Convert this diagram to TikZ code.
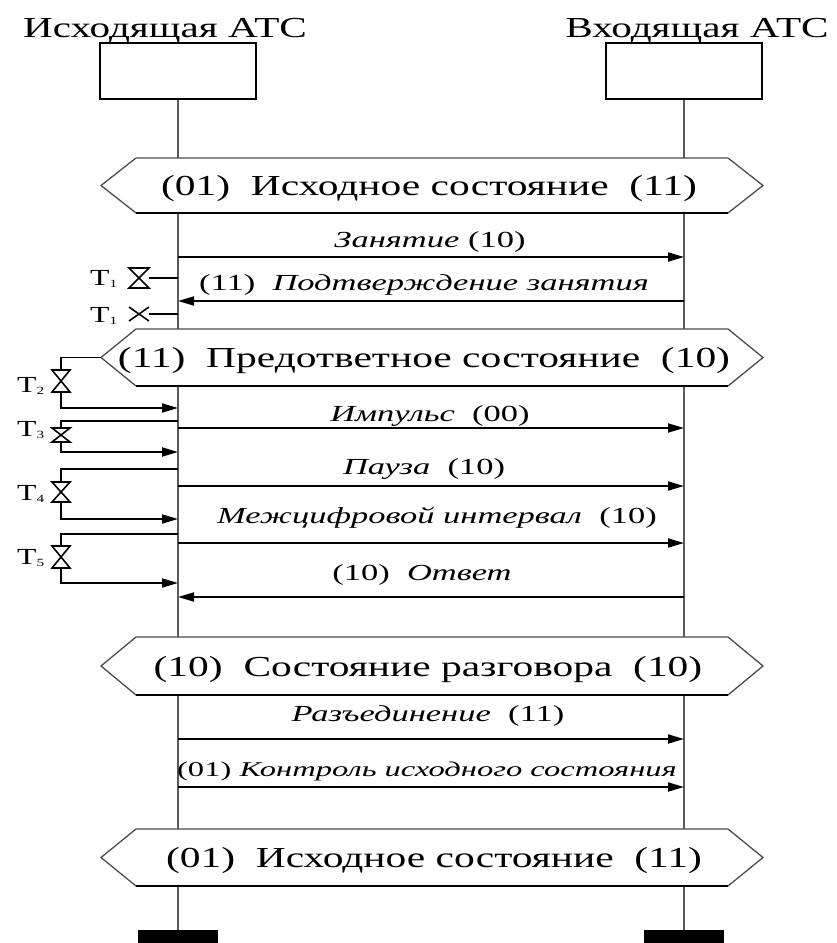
\documentclass[tikz,border=0pt]{standalone}
\usepackage{fontspec}
\setmainfont{Liberation Serif}
\usepackage{graphicx}
\usetikzlibrary{arrows.meta}
\newcommand{\wx}[2][1.38]{\scalebox{#1}[1]{#2}}
\newcommand{\hexa}[3]{%
  \draw[fill=white, draw=black!70, line width=1.3pt] (101,#3) -- (136,#1) -- (728,#1) -- (763,#3) -- (728,#2) -- (136,#2) -- cycle;
  \draw[line width=2.4pt] (136,#2) -- (728,#2);}
\newcommand{\hglass}[4]{%
  \draw[fill=white, line width=1.6pt] (#1-#3,#2-#4) -- (#1+#3,#2-#4) -- (#1-#3,#2+#4) -- (#1+#3,#2+#4) -- cycle;
  \draw[line width=2.4pt] (#1-#3,#2-#4) -- (#1+#3,#2-#4) (#1-#3,#2+#4) -- (#1+#3,#2+#4);}
\begin{document}
\begin{tikzpicture}[x=1pt,y=-1pt,
  life/.style={draw=black!65, line width=2.4pt},
  msg/.style={line width=1.8pt, -{Triangle[length=16pt,width=9pt]}},
  loopl/.style={line width=1.8pt, -{Triangle[length=16pt,width=9pt]}},
  ttl/.style={inner sep=0, anchor=base, font=\fontsize{29}{31}\selectfont},
  lbl/.style={inner sep=0, anchor=base, font=\fontsize{23}{25}\selectfont},
  hexlbl/.style={inner sep=0, anchor=base, font=\fontsize{29}{31}\selectfont},
  tlbl/.style={inner sep=0, anchor=base west, font=\fontsize{23}{25}\selectfont},
  tbox/.style={draw, line width=1.8pt, fill=white, minimum width=156pt, minimum height=56pt, inner sep=0},
  endbox/.style={fill=black, minimum width=80pt, minimum height=16pt, inner sep=0}]
\useasboundingbox (0,0) rectangle (836,943);
% titles and boxes
\node[ttl] (tL) at (165,37) {\wx[1.42]{Исходящая АТС}};
\node[ttl] (tR) at (697,37) {\wx[1.42]{Входящая АТС}};
\node[tbox] (boxL) at (178,71) {};
\node[tbox] (boxR) at (684,71) {};
\node[endbox, anchor=north] (eL) at (178,930) {};
\node[endbox, anchor=north] (eR) at (684,930) {};
\draw[life] (boxL.south) -- (eL.north);
\draw[life] (boxR.south) -- (eR.north);
% hexagons
\hexa{158}{213}{185.5}
\hexa{329}{386}{357.5}
\hexa{637}{695}{666}
\hexa{829}{886}{857.5}
\coordinate (h2tip) at (101,357.5);
\node[hexlbl] (s1) at (429,195) {\wx[1.43]{(01)\ \ Исходное состояние\ \ (11)}};
\node[hexlbl] (s2) at (424,367) {\wx[1.43]{(11)\ \ Предответное состояние\ \ (10)}};
\node[hexlbl] (s3) at (428,676) {\wx[1.43]{(10)\ \ Состояние разговора\ \ (10)}};
\node[hexlbl] (s4) at (434,867) {\wx[1.43]{(01)\ \ Исходное состояние\ \ (11)}};
% message end points
\foreach \n/\y in {a/257,b/301,c/428,d/486,e/543,f/597,g/739,h/787}{
  \coordinate (L\n) at (178,\y); \coordinate (R\n) at (684,\y);}
\draw[msg] (La) -- (Ra);
\draw[msg] (Rb) -- (Lb);
\draw[msg] (Lc) -- (Rc);
\draw[msg] (Ld) -- (Rd);
\draw[msg] (Le) -- (Re);
\draw[msg] (Rf) -- (Lf);
\draw[msg] (Lg) -- (Rg);
\draw[msg] (Lh) -- (Rh);
\node[lbl] (ma) at (430,247) {\wx[1.5]{\textit{Занятие} (10)}};
\node[lbl] (mb) at (424,290) {\wx[1.5]{(11)\ \ \textit{Подтверждение занятия}}};
\node[lbl] (mc) at (430,421) {\wx[1.5]{\textit{Импульс}\ \ (00)}};
\node[lbl] (md) at (424,474) {\wx[1.5]{\textit{Пауза}\ \ (10)}};
\node[lbl] (me) at (437,523) {\wx[1.5]{\textit{Межцифровой интервал}\ \ (10)}};
\node[lbl] (mf) at (422,580) {\wx[1.5]{(10)\ \ \textit{Ответ}}};
\node[lbl] (mg) at (428,721) {\wx[1.5]{\textit{Разъединение}\ \ (11)}};
\node[lbl, font=\fontsize{21}{23}\selectfont] (mh) at (427,776) {\wx[1.55]{(01) \textit{Контроль исходного состояния}}};
% T1 timers
\coordinate (g1) at (149,278);
\coordinate (L1) at (178,278);
\coordinate (x1) at (149,314);
\coordinate (L2) at (178,314);
\draw[line width=1.6pt] (L1) -- (g1);
\draw[line width=1.6pt] (L2) -- (x1);
\hglass{139}{278}{10}{10}
\draw[line width=1.6pt] (129,307) -- (149,321) (129,321) -- (149,307);
\node[tlbl] (t1a) at (90,285) {\wx{T\raisebox{-2pt}{\fontsize{11}{12}\selectfont 1}}};
\node[tlbl] (t1b) at (90,322) {\wx{T\raisebox{-2pt}{\fontsize{11}{12}\selectfont 1}}};
% T2..T5 loops
\coordinate (k2) at (61,357.5); \coordinate (k2b) at (61,408); \coordinate (L3) at (178,408);
\draw[loopl] (h2tip) -- (k2) -- (k2b) -- (L3);
\coordinate (L4) at (178,421); \coordinate (k3) at (61,421); \coordinate (k3b) at (61,452); \coordinate (L5) at (178,452);
\draw[loopl] (L4) -- (k3) -- (k3b) -- (L5);
\coordinate (L6) at (178,469); \coordinate (k4) at (61,469); \coordinate (k4b) at (61,519); \coordinate (L7) at (178,519);
\draw[loopl] (L6) -- (k4) -- (k4b) -- (L7);
\coordinate (L8) at (178,534); \coordinate (k5) at (61,534); \coordinate (k5b) at (61,583); \coordinate (L9) at (178,583);
\draw[loopl] (L8) -- (k5) -- (k5b) -- (L9);
\hglass{61}{381}{9}{11}
\hglass{61}{435}{9}{7}
\hglass{61}{492}{9}{10}
\hglass{61}{557}{9}{11}
\node[tlbl] (t2) at (17,392) {\wx{T\raisebox{-2pt}{\fontsize{11}{12}\selectfont 2}}};
\node[tlbl] (t3) at (17,436) {\wx{T\raisebox{-2pt}{\fontsize{11}{12}\selectfont 3}}};
\node[tlbl] (t4) at (17,500) {\wx{T\raisebox{-2pt}{\fontsize{11}{12}\selectfont 4}}};
\node[tlbl] (t5) at (17,564) {\wx{T\raisebox{-2pt}{\fontsize{11}{12}\selectfont 5}}};
\end{tikzpicture}
\end{document}
